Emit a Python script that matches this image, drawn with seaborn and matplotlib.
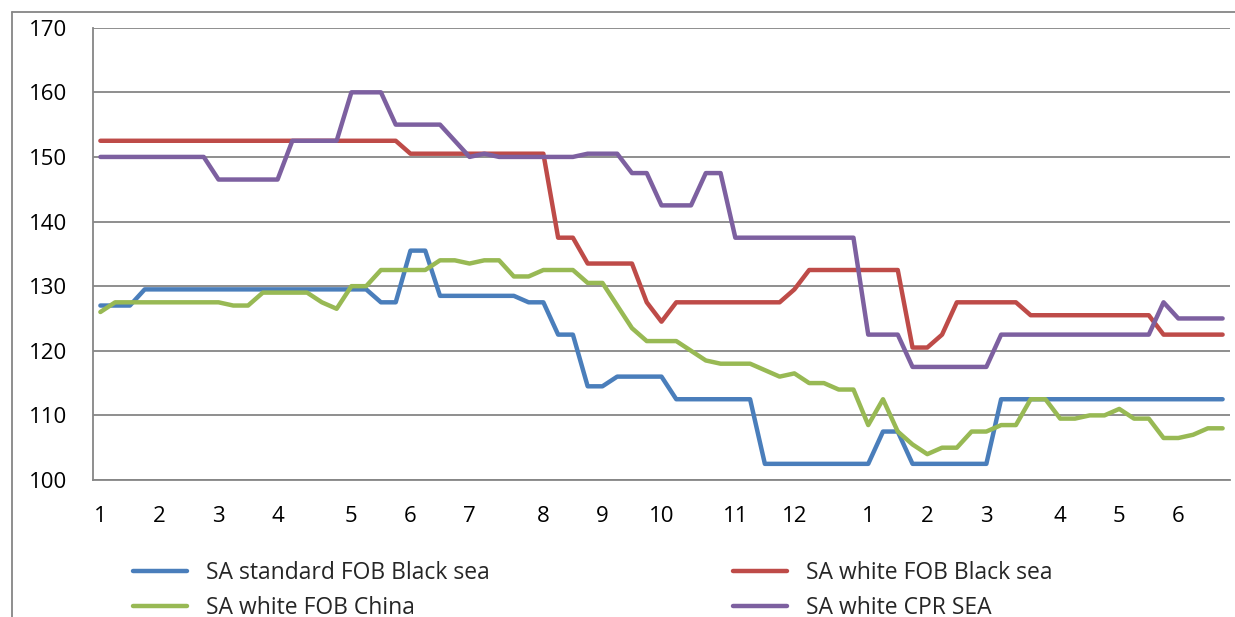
import matplotlib
matplotlib.use("Agg")
import matplotlib.pyplot as plt
from matplotlib.lines import Line2D
from matplotlib import font_manager
import seaborn as sns
import pandas as pd

# Weekly prices, one value per week
sa_standard_fob_black_sea = [
    127, 127, 127, 129.5, 129.5, 129.5, 129.5, 129.5, 129.5, 129.5,
    129.5, 129.5, 129.5, 129.5, 129.5, 129.5, 129.5, 129.5, 129.5, 127.5,
    127.5, 135.5, 135.5, 128.5, 128.5, 128.5, 128.5, 128.5, 128.5, 127.5,
    127.5, 122.5, 122.5, 114.5, 114.5, 116, 116, 116, 116, 112.5,
    112.5, 112.5, 112.5, 112.5, 112.5, 102.5, 102.5, 102.5, 102.5, 102.5,
    102.5, 102.5, 102.5, 107.5, 107.5, 102.5, 102.5, 102.5, 102.5, 102.5,
    102.5, 112.5, 112.5, 112.5, 112.5, 112.5, 112.5, 112.5, 112.5, 112.5,
    112.5, 112.5, 112.5, 112.5, 112.5, 112.5, 112.5,
]
sa_white_fob_black_sea = [
    152.5, 152.5, 152.5, 152.5, 152.5, 152.5, 152.5, 152.5, 152.5, 152.5,
    152.5, 152.5, 152.5, 152.5, 152.5, 152.5, 152.5, 152.5, 152.5, 152.5,
    152.5, 150.5, 150.5, 150.5, 150.5, 150.5, 150.5, 150.5, 150.5, 150.5,
    150.5, 137.5, 137.5, 133.5, 133.5, 133.5, 133.5, 127.5, 124.5, 127.5,
    127.5, 127.5, 127.5, 127.5, 127.5, 127.5, 127.5, 129.5, 132.5, 132.5,
    132.5, 132.5, 132.5, 132.5, 132.5, 120.5, 120.5, 122.5, 127.5, 127.5,
    127.5, 127.5, 127.5, 125.5, 125.5, 125.5, 125.5, 125.5, 125.5, 125.5,
    125.5, 125.5, 122.5, 122.5, 122.5, 122.5, 122.5,
]
sa_white_fob_china = [
    126, 127.5, 127.5, 127.5, 127.5, 127.5, 127.5, 127.5, 127.5, 127,
    127, 129, 129, 129, 129, 127.5, 126.5, 130, 130, 132.5,
    132.5, 132.5, 132.5, 134, 134, 133.5, 134, 134, 131.5, 131.5,
    132.5, 132.5, 132.5, 130.5, 130.5, 127, 123.5, 121.5, 121.5, 121.5,
    120, 118.5, 118, 118, 118, 117, 116, 116.5, 115, 115,
    114, 114, 108.5, 112.5, 107.5, 105.5, 104, 105, 105, 107.5,
    107.5, 108.5, 108.5, 112.5, 112.5, 109.5, 109.5, 110, 110, 111,
    109.5, 109.5, 106.5, 106.5, 107, 108, 108,
]
sa_white_cpr_sea = [
    150, 150, 150, 150, 150, 150, 150, 150, 146.5, 146.5,
    146.5, 146.5, 146.5, 152.5, 152.5, 152.5, 152.5, 160, 160, 160,
    155, 155, 155, 155, 152.5, 150, 150.5, 150, 150, 150,
    150, 150, 150, 150.5, 150.5, 150.5, 147.5, 147.5, 142.5, 142.5,
    142.5, 147.5, 147.5, 137.5, 137.5, 137.5, 137.5, 137.5, 137.5, 137.5,
    137.5, 137.5, 122.5, 122.5, 122.5, 117.5, 117.5, 117.5, 117.5, 117.5,
    117.5, 122.5, 122.5, 122.5, 122.5, 122.5, 122.5, 122.5, 122.5, 122.5,
    122.5, 122.5, 127.5, 125, 125, 125, 125,
]

series_names = [
    "SA standard FOB Black sea",
    "SA white FOB Black sea",
    "SA white FOB China",
    "SA white CPR SEA",
]
series_colors = ["#4A7EBB", "#BE4B48", "#98B954", "#7D60A0"]

# Month labels shown under the first week of each month
month_positions = [0, 4, 8, 12, 17, 21, 25, 30, 34, 38, 43, 47, 52, 56, 60, 65, 69, 73]
month_labels = ["1", "2", "3", "4", "5", "6", "7", "8", "9", "10", "11", "12",
                "1", "2", "3", "4", "5", "6"]

y_ticks = [100, 110, 120, 130, 140, 150, 160, 170]

# ---------------------------------------------------------------------------
sns.set_style("white")
available = {f.name for f in font_manager.fontManager.ttflist}
base_font = "Open Sans" if "Open Sans" in available else "DejaVu Sans"
plt.rcParams["font.family"] = [base_font, "DejaVu Sans"]

GRID = "#868686"
DPI = 100
W, H = 1235, 617

frames = []
for name, values in zip(series_names,
                        [sa_standard_fob_black_sea, sa_white_fob_black_sea,
                         sa_white_fob_china, sa_white_cpr_sea]):
    frames.append(pd.DataFrame({"week": range(len(values)),
                                "price": values,
                                "series": name}))
df = pd.concat(frames, ignore_index=True)
n_weeks = len(sa_standard_fob_black_sea)

fig = plt.figure(figsize=(W / DPI, H / DPI), dpi=DPI)
ax = fig.add_axes([93 / W, 1 - 480 / H, (1230 - 93) / W, (480 - 27.7) / H])

sns.lineplot(data=df, x="week", y="price", hue="series",
             hue_order=series_names, palette=series_colors,
             linewidth=3.2, ax=ax, legend=False,
             solid_capstyle="round", solid_joinstyle="round")

ax.set_xlim(-0.5, n_weeks - 0.5)
ax.set_ylim(100, 170)
ax.set_xlabel("")
ax.set_ylabel("")

# Horizontal gridlines
ax.set_yticks(y_ticks)
ax.set_yticklabels([str(v) for v in y_ticks])
ax.yaxis.grid(True, color=GRID, linewidth=1.3)
ax.xaxis.grid(False)
ax.set_axisbelow(True)

# Category axis: tick marks between weeks, labels at month starts
ax.set_xticks(month_positions)
ax.set_xticklabels(month_labels)
ax.set_xticks([i - 0.5 for i in range(n_weeks + 1)], minor=True)
ax.tick_params(axis="x", which="major", length=0, pad=19, labelsize=16,
               colors="black")
ax.tick_params(axis="x", which="minor", length=5.5, width=1.1, color=GRID,
               direction="out")
ax.tick_params(axis="y", which="major", length=5.8, width=1.1, color=GRID,
               direction="out", pad=13, labelsize=16, labelcolor="black")

for side in ("top", "right"):
    ax.spines[side].set_visible(False)
for side in ("left", "bottom"):
    ax.spines[side].set_color(GRID)
    ax.spines[side].set_linewidth(1.3)

# Legend in two columns under the plot
handles = [Line2D([0], [0], color=c, linewidth=3.2, solid_capstyle="round")
           for c in series_colors]
legend_kw = dict(loc="upper left", frameon=False, fontsize=16.5, ncol=1,
                 handlelength=2.36, handletextpad=0.83, labelspacing=0.5,
                 borderpad=0, borderaxespad=0)
fig.legend([handles[0], handles[2]], [series_names[0], series_names[2]],
           bbox_to_anchor=(133 / W, 1 - 561 / H), **legend_kw)
fig.legend([handles[1], handles[3]], [series_names[1], series_names[3]],
           bbox_to_anchor=(733 / W, 1 - 561 / H), **legend_kw)

# Outer chart frame
fig.add_artist(Line2D([12 / W, 12 / W], [0, 1 - 11.7 / H],
                      transform=fig.transFigure, color=GRID, linewidth=1.3))
fig.add_artist(Line2D([12 / W, 1], [1 - 11.7 / H, 1 - 11.7 / H],
                      transform=fig.transFigure, color=GRID, linewidth=1.3))

fig.savefig("out.png", dpi=DPI)
